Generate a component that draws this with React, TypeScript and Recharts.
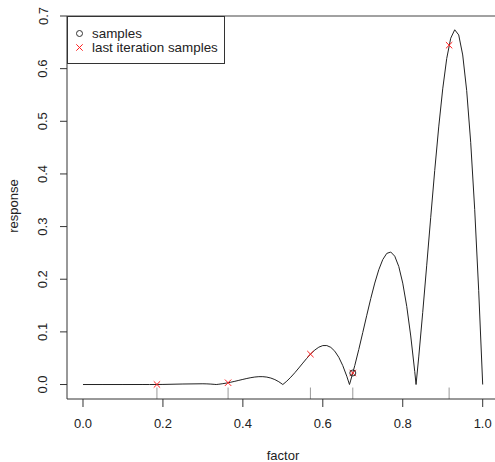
import React from 'react';
import { ComposedChart, Line, Scatter, XAxis, YAxis, ReferenceLine } from 'recharts';

const factorGrid = [
  0, 0.05, 0.1, 0.15, 0.1667, 0.2, 0.25, 0.3, 0.31, 0.32, 0.33, 0.3333, 0.34, 0.35, 0.36, 0.37, 0.38, 0.39,
  0.4, 0.41, 0.42, 0.43, 0.44, 0.45, 0.46, 0.47, 0.48, 0.49, 0.5, 0.51, 0.52, 0.53, 0.54, 0.55, 0.56, 0.57,
  0.58, 0.59, 0.6, 0.61, 0.62, 0.63, 0.64, 0.65, 0.66, 0.6667, 0.67, 0.68, 0.69, 0.7, 0.71, 0.72, 0.73, 0.74,
  0.75, 0.76, 0.77, 0.78, 0.79, 0.8, 0.81, 0.82, 0.83, 0.8333, 0.84, 0.85, 0.86, 0.87, 0.88, 0.89, 0.9, 0.91,
  0.92, 0.93, 0.94, 0.95, 0.96, 0.97, 0.98, 0.99, 1.0,
];
const responseCurve = [
  0, 0, 0.00001, 0.00002, 0, 0.00019, 0.00098, 0.00143, 0.00122, 0.00083, 0.00025, 0, 0.00057, 0.00162, 0.00291, 0.00442, 0.00611, 0.00791,
  0.00974, 0.01149, 0.01304, 0.01424, 0.01492, 0.01493, 0.0141, 0.01229, 0.00938, 0.00529, 0, 0.00647, 0.014, 0.02241, 0.03143, 0.04072, 0.04983, 0.05828,
  0.06551, 0.07093, 0.07396, 0.07401, 0.07059, 0.06326, 0.05173, 0.03585, 0.01569, 0, 0.00848, 0.03616, 0.0666, 0.09879, 0.13153, 0.16337, 0.19275, 0.21797,
  0.23731, 0.24907, 0.25168, 0.24376, 0.22432, 0.19261, 0.14847, 0.0922, 0.02474, 0, 0.0524, 0.1371, 0.22665, 0.31769, 0.40662, 0.48933, 0.56162, 0.6191,
  0.65776, 0.67384, 0.66404, 0.62599, 0.55812, 0.46011, 0.33273, 0.17822, 0,
];

const lastIterX = [0.185, 0.363, 0.569, 0.675, 0.916];
const lastIterY = [0.0001, 0.0034, 0.0578, 0.0219, 0.6445];
const samplesX = [0.675];
const samplesY = [0.0219];

const xTicks = [0, 0.2, 0.4, 0.6, 0.8, 1.0];
const yTicks = [0, 0.1, 0.2, 0.3, 0.4, 0.5, 0.6, 0.7];
const legendLabels = ['samples', 'last iteration samples'];

const curveData = factorGrid.map((x, i) => ({ x, y: responseCurve[i] }));
const lastIterData = lastIterX.map((x, i) => ({ x, y: lastIterY[i] }));
const samplesData = samplesX.map((x, i) => ({ x, y: samplesY[i] }));

const FONT = '"Liberation Sans", Arial, Helvetica, sans-serif';
const Y_MIN = -0.0275;
const RUG_LEN = 0.0218;

const Cross = (props: any) => {
  const { cx, cy } = props;
  if (cx == null || cy == null) return null;
  const s = 3.2;
  return (
    <g stroke="#ff2020" strokeWidth={1}>
      <line x1={cx - s} y1={cy - s} x2={cx + s} y2={cy + s} />
      <line x1={cx - s} y1={cy + s} x2={cx + s} y2={cy - s} />
    </g>
  );
};

const Ring = (props: any) => {
  const { cx, cy } = props;
  if (cx == null || cy == null) return null;
  return <circle cx={cx} cy={cy} r={3} fill="none" stroke="#333" strokeWidth={1} />;
};

const XTick = (p: any) => (
  <text x={p.x} y={423} textAnchor="middle" dominantBaseline="central" fontSize={13} fontFamily={FONT} fill="#222">
    {Number(p.payload.value).toFixed(1)}
  </text>
);

const YTick = (p: any) => (
  <text
    x={43}
    y={p.y}
    transform={`rotate(-90 43 ${p.y})`}
    textAnchor="middle"
    dominantBaseline="central"
    fontSize={13}
    fontFamily={FONT}
    fill="#222"
  >
    {Number(p.payload.value).toFixed(1)}
  </text>
);

export default function App() {
  return (
    <div style={{ position: 'absolute', left: 0, top: 0, width: 495, height: 462, background: '#fff', fontFamily: FONT }}>
      <ComposedChart width={495} height={462} data={curveData} margin={{ top: 16, right: 0, bottom: 0, left: 0 }}>
        <XAxis
          dataKey="x"
          type="number"
          domain={[-0.04, 1.0308]}
          ticks={xTicks}
          tickSize={8}
          height={63}
          allowDataOverflow
          stroke="#333"
          tick={XTick}
          label={{
            content: () => (
              <text x={283} y={455} textAnchor="middle" dominantBaseline="central" fontSize={13} fontFamily={FONT} fill="#222">
                factor
              </text>
            ),
          }}
        />
        <YAxis
          type="number"
          domain={[Y_MIN, 0.7]}
          ticks={yTicks}
          tickSize={7}
          width={67}
          allowDataOverflow
          stroke="#333"
          tick={YTick}
          label={{
            content: () => (
              <text
                x={13}
                y={206}
                transform="rotate(-90 13 206)"
                textAnchor="middle"
                dominantBaseline="central"
                fontSize={13}
                fontFamily={FONT}
                fill="#222"
              >
                response
              </text>
            ),
          }}
        />
        <ReferenceLine y={0.7} stroke="#444" strokeWidth={1} ifOverflow="extendDomain" />
        {lastIterX.map((x) => (
          <ReferenceLine
            key={x}
            segment={[{ x, y: Y_MIN }, { x, y: Y_MIN + RUG_LEN }]}
            stroke="#999"
            strokeWidth={1}
          />
        ))}
        <Line dataKey="y" type="linear" stroke="#222" strokeWidth={1} dot={false} isAnimationActive={false} />
        <Scatter data={lastIterData} dataKey="y" shape={Cross} isAnimationActive={false} />
        <Scatter data={samplesData} dataKey="y" shape={Ring} isAnimationActive={false} />
      </ComposedChart>
      <svg width={495} height={462} style={{ position: 'absolute', left: 0, top: 0, pointerEvents: 'none' }}>
        <rect x={67.5} y={16.5} width={157} height={47} fill="#fff" stroke="#333" strokeWidth={1} />
        <circle cx={79.5} cy={33.5} r={3} fill="none" stroke="#333" strokeWidth={1} />
        <text x={92} y={33.5} dominantBaseline="central" fontSize={13.4} fontFamily={FONT} fill="#222">
          {legendLabels[0]}
        </text>
        <g stroke="#ff2020" strokeWidth={1}>
          <line x1={76.3} y1={44.3} x2={82.7} y2={50.7} />
          <line x1={76.3} y1={50.7} x2={82.7} y2={44.3} />
        </g>
        <text x={92} y={47.5} dominantBaseline="central" fontSize={13.4} fontFamily={FONT} fill="#222">
          {legendLabels[1]}
        </text>
      </svg>
    </div>
  );
}
